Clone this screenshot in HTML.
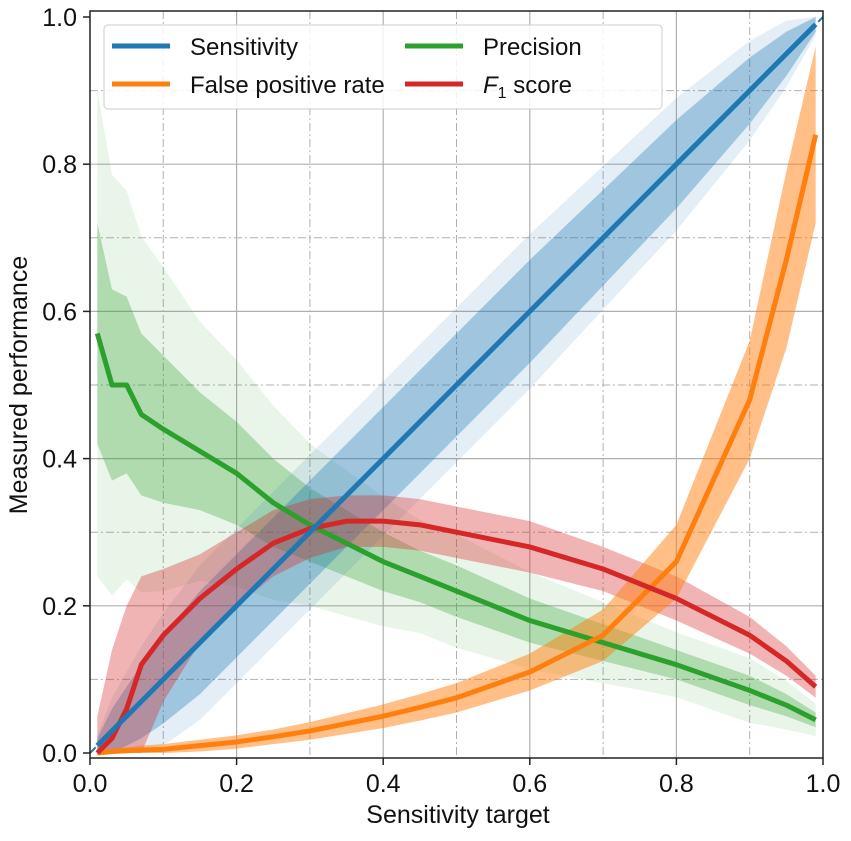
<!DOCTYPE html>
<html><head><meta charset="utf-8"><style>
body{margin:0;background:#fff;font-family:"Liberation Sans",sans-serif}
svg text{font-family:"Liberation Sans",sans-serif;fill:#111}
</style></head><body>
<svg id="c" width="851" height="836"></svg>
<script>
const xs=[0.01,0.03,0.05,0.07,0.1,0.15,0.2,0.25,0.3,0.35,0.4,0.45,0.5,0.6,0.7,0.8,0.9,0.95,0.99];
const sens=[0.01,0.03,0.05,0.07,0.1,0.15,0.2,0.25,0.3,0.35,0.4,0.45,0.5,0.6,0.7,0.8,0.9,0.95,0.99];
const prec=[0.57,0.5,0.5,0.46,0.44,0.41,0.38,0.34,0.31,0.285,0.26,0.24,0.22,0.18,0.15,0.12,0.085,0.065,0.045];
const f1=[0,0.02,0.06,0.12,0.16,0.21,0.25,0.285,0.305,0.315,0.315,0.31,0.3,0.28,0.25,0.21,0.16,0.125,0.09];
const fpr=[0,0.002,0.003,0.004,0.005,0.01,0.015,0.022,0.03,0.04,0.05,0.062,0.075,0.11,0.16,0.26,0.48,0.67,0.84];
const sensW=[0.01,0.03,0.04,0.05,0.06,0.07,0.07,0.07,0.07,0.07,0.07,0.07,0.07,0.07,0.065,0.06,0.045,0.03,0.01];
const precW=[0.15,0.13,0.12,0.11,0.1,0.08,0.07,0.06,0.05,0.045,0.04,0.035,0.035,0.03,0.025,0.02,0.02,0.015,0.01];
const f1W=[0.05,0.12,0.14,0.12,0.09,0.06,0.05,0.045,0.04,0.035,0.035,0.035,0.035,0.035,0.03,0.03,0.025,0.02,0.015];
const fprW=[0.002,0.004,0.005,0.006,0.007,0.008,0.009,0.01,0.012,0.014,0.016,0.018,0.02,0.025,0.035,0.05,0.08,0.12,0.12];
const xTicks=[0,0.2,0.4,0.6,0.8,1.0];
const yTicks=[0,0.2,0.4,0.6,0.8,1.0];
const X0=90,X1=823,Y0=753,Y1=17;
const sx=v=>X0+v*(X1-X0), sy=v=>Y0-v*(Y0-Y1);
const svg=document.getElementById('c');const NS='http://www.w3.org/2000/svg';
function mk(t,a,p){const e=document.createElementNS(NS,t);for(const k in a)e.setAttribute(k,a[k]);(p||svg).appendChild(e);return e;}
for(let i=1;i<10;i++){const v=i/10;const major=i%2==0;
 const g1=mk('line',{x1:sx(v),x2:sx(v),y1:11,y2:758,stroke:'#b0b0b0','stroke-width':major?1.2:1,'stroke-dasharray':major?'':'8,3,2,3'});
 
 const g2=mk('line',{x1:90,x2:823,y1:sy(v),y2:sy(v),stroke:'#b0b0b0','stroke-width':major?1.2:1,'stroke-dasharray':major?'':'8,3,2,3'});
 }
function band(y,w,col,op,name){let d='';xs.forEach((x,i)=>d+=(i?'L':'M')+sx(x)+','+sy(Math.min(1,Math.max(0,y[i]+w[i]))));
 for(let i=xs.length-1;i>=0;i--)d+='L'+sx(xs[i])+','+sy(Math.max(0,y[i]-w[i]));
 const e=mk('path',{d:d+'Z',fill:col,'fill-opacity':op});}
function line(y,col,name){const d=xs.map((x,i)=>(i?'L':'M')+sx(x)+','+sy(y[i])).join('');
 const e=mk('path',{d:d,fill:'none',stroke:col,'stroke-width':5,'stroke-linejoin':'round'});
 }
band(prec,precW.map(w=>w*2.2),'#2ca02c',0.1,'precision-band-outer');
band(prec,precW,'#2ca02c',0.3,'precision-band');
band(sens,sensW.map(w=>w*1.5),'#1f77b4',0.12,'sensitivity-band-outer');
band(sens,sensW,'#1f77b4',0.35,'sensitivity-band');
band(f1,f1W,'#d62728',0.35,'f1-band');
band(fpr,fprW,'#ff7f0e',0.5,'fpr-band');
line(prec,'#2ca02c','precision-line');
line(fpr,'#ff7f0e','fpr-line');
line(f1,'#d62728','f1-line');
line(sens,'#1f77b4','sensitivity-line');
const dl=mk('line',{x1:sx(0),y1:sy(0),x2:sx(1),y2:sy(1),stroke:'#1f77b4','stroke-width':2,'stroke-dasharray':'8,4'});

const fr=mk('rect',{x:90,y:11,width:733,height:747,fill:'none',stroke:'#222','stroke-width':1.5});

xTicks.forEach(v=>{const t=mk('line',{x1:sx(v),x2:sx(v),y1:758,y2:765,stroke:'#222','stroke-width':1.5});
 
 const l=mk('text',{x:sx(v),y:792,'text-anchor':'middle','font-size':25});l.textContent=v.toFixed(1);
 });
yTicks.forEach(v=>{const t=mk('line',{x1:83,x2:90,y1:sy(v),y2:sy(v),stroke:'#222','stroke-width':1.5});
 
 const l=mk('text',{x:77,y:sy(v)+9,'text-anchor':'end','font-size':25});l.textContent=v.toFixed(1);
 });
const xt=mk('text',{x:458,y:823,'text-anchor':'middle','font-size':25});xt.textContent='Sensitivity target';

const yt=mk('text',{x:0,y:0,'text-anchor':'middle','font-size':25,transform:'translate(27,385) rotate(-90)'});yt.textContent='Measured performance';

const lg=mk('g',{});
mk('rect',{x:104,y:25,width:558,height:84,rx:4,fill:'#fff','fill-opacity':0.85,stroke:'#ccc'},lg);
[['Sensitivity','#1f77b4',112,46],['False positive rate','#ff7f0e',112,84],['Precision','#2ca02c',405,46],['F1 score','#d62728',405,84]].forEach(([n,c,x,y])=>{
 const g=mk('g',{},lg);
 mk('line',{x1:x,x2:x+58,y1:y,y2:y,stroke:c,'stroke-width':5},g);
 const t=mk('text',{x:x+78,y:y+9,'font-size':24},g);
 if(n==='F1 score'){t.innerHTML='<tspan font-style="italic">F</tspan><tspan font-size="16" dy="5">1</tspan><tspan dy="-5"> score</tspan>';}else t.textContent=n;});
</script>
</body></html>
